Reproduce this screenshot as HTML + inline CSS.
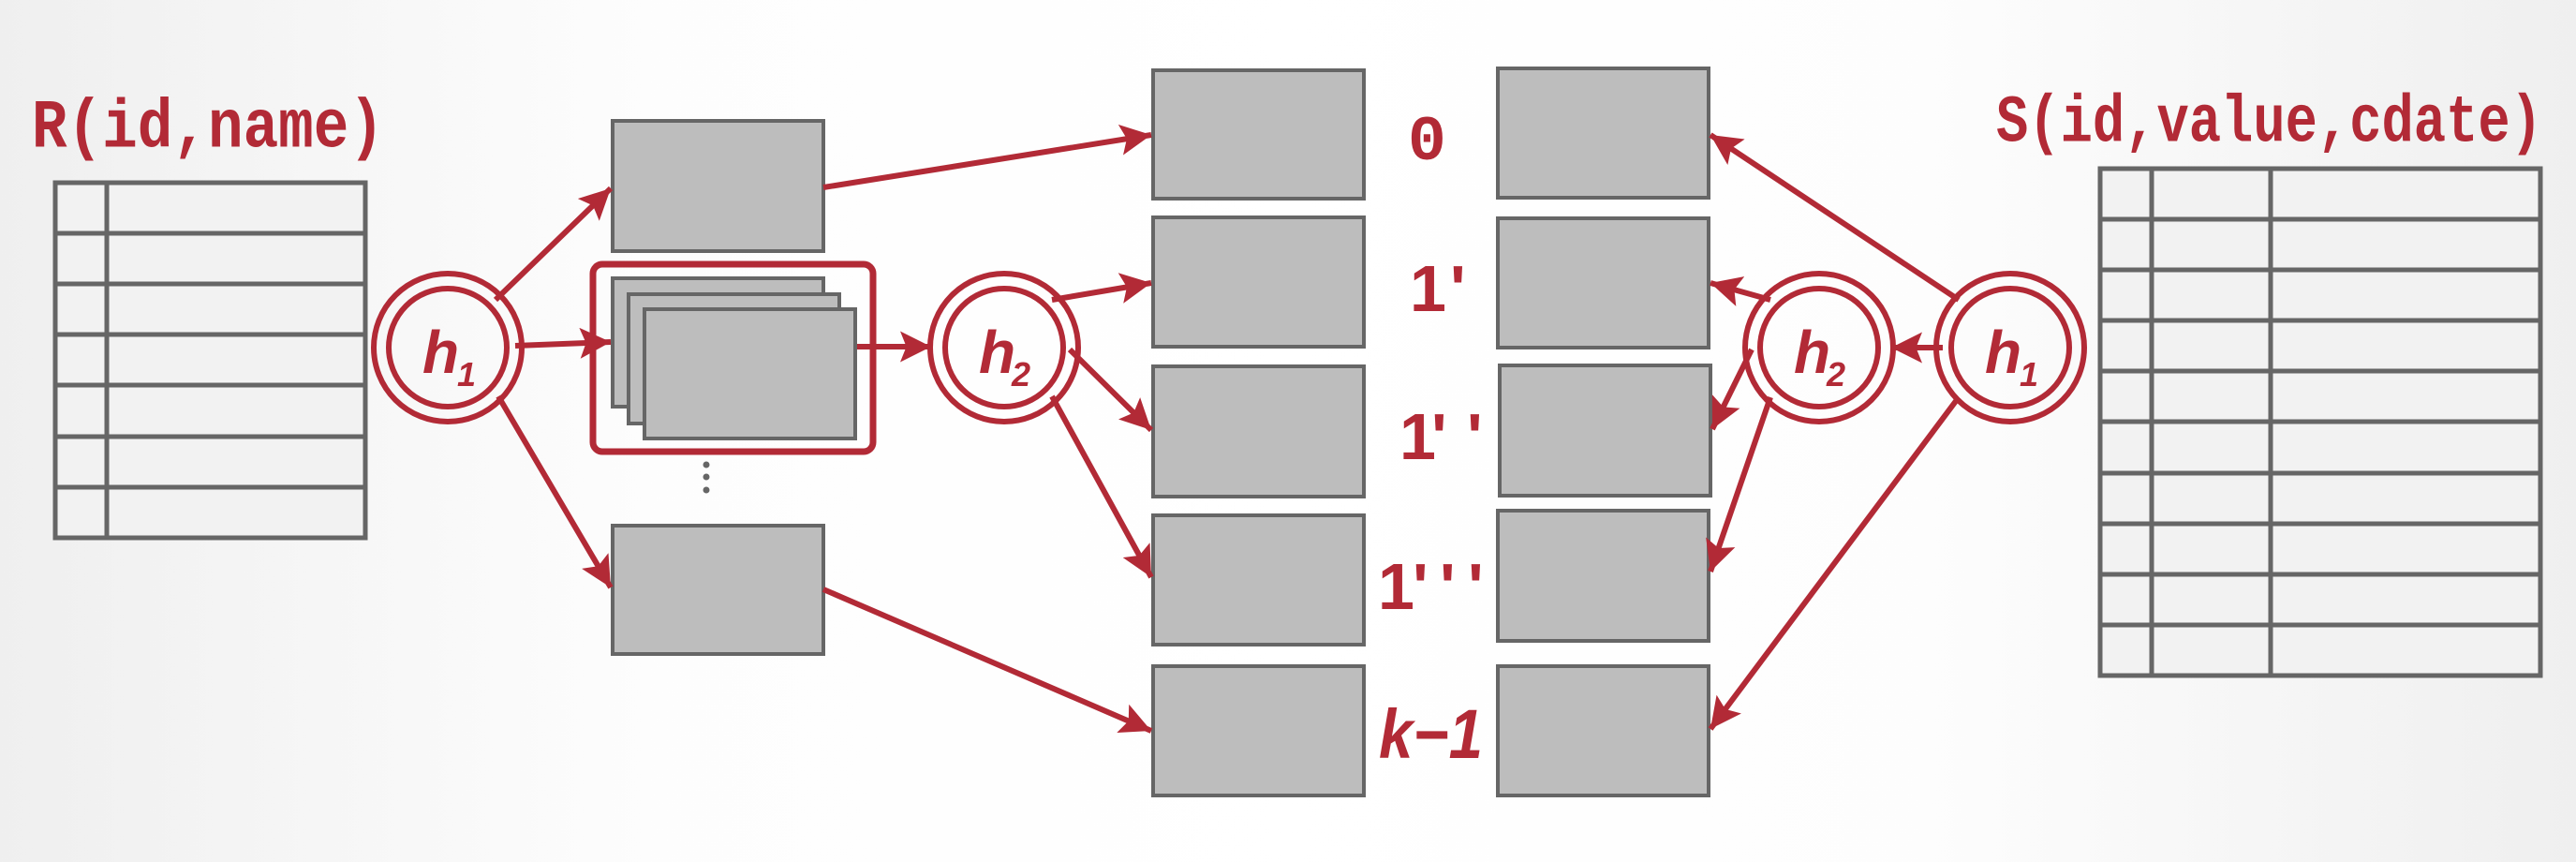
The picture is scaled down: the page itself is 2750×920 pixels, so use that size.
<!DOCTYPE html>
<html><head><meta charset="utf-8"><style>
html,body{margin:0;padding:0;width:2750px;height:920px;overflow:hidden;}
body{background:linear-gradient(to right,#efefef 0%,#fdfdfd 25%,#fff 50%,#fdfdfd 75%,#efefef 100%);}
</style></head><body>
<svg width="2750" height="920" viewBox="0 0 2750 920" xmlns="http://www.w3.org/2000/svg">
<defs>
<marker id="a" viewBox="0 0 10 10" refX="10" refY="5" markerWidth="5.5" markerHeight="5.5" markerUnits="strokeWidth" orient="auto">
<path d="M0,0 L10,5 L0,10 L2,5 z" fill="#b22a36"/></marker>
</defs>
<g font-family="'Liberation Mono',monospace" font-weight="bold" fill="#b22a36">
<text x="34" y="157" font-size="64" textLength="376" lengthAdjust="spacingAndGlyphs" transform="translate(0,-24) scale(1,1.15)" >R(id,name)</text>
<text x="2131" y="150" font-size="62" textLength="583" lengthAdjust="spacingAndGlyphs" transform="translate(0,-22) scale(1,1.15)">S(id,value,cdate)</text>
</g>
<!-- R table -->
<g stroke="#666" stroke-width="5" fill="#f2f2f2">
<rect x="59" y="195" width="331" height="379"/>
<line x1="114" y1="195" x2="114" y2="574"/>
<line x1="59" y1="249" x2="390" y2="249"/><line x1="59" y1="303" x2="390" y2="303"/>
<line x1="59" y1="357" x2="390" y2="357"/><line x1="59" y1="411" x2="390" y2="411"/>
<line x1="59" y1="466" x2="390" y2="466"/><line x1="59" y1="520" x2="390" y2="520"/>
</g>
<!-- S table -->
<g stroke="#666" stroke-width="5" fill="#f2f2f2">
<rect x="2242" y="180" width="470" height="541"/>
<line x1="2297" y1="180" x2="2297" y2="721"/><line x1="2424" y1="180" x2="2424" y2="721"/>
<line x1="2242" y1="234" x2="2712" y2="234"/><line x1="2242" y1="288" x2="2712" y2="288"/>
<line x1="2242" y1="342" x2="2712" y2="342"/><line x1="2242" y1="396" x2="2712" y2="396"/>
<line x1="2242" y1="450" x2="2712" y2="450"/><line x1="2242" y1="505" x2="2712" y2="505"/>
<line x1="2242" y1="559" x2="2712" y2="559"/><line x1="2242" y1="613" x2="2712" y2="613"/>
<line x1="2242" y1="667" x2="2712" y2="667"/>
</g>
<!-- boxes -->
<g stroke="#666" stroke-width="4" fill="#bdbdbd">
<rect x="654" y="129" width="225" height="139"/>
<rect x="654" y="297" width="225" height="137"/>
<rect x="671" y="314" width="225" height="138"/>
<rect x="688" y="330" width="225" height="138"/>
<rect x="654" y="561" width="225" height="137"/>
<rect x="1231" y="75" width="225" height="137"/>
<rect x="1231" y="232" width="225" height="138"/>
<rect x="1231" y="391" width="225" height="139"/>
<rect x="1231" y="550" width="225" height="138"/>
<rect x="1231" y="711" width="225" height="138"/>
<rect x="1599" y="73" width="225" height="138"/>
<rect x="1599" y="233" width="225" height="138"/>
<rect x="1601" y="390" width="225" height="139"/>
<rect x="1599" y="545" width="225" height="139"/>
<rect x="1599" y="711" width="225" height="138"/>
</g>
<rect x="633" y="282" width="299" height="200" rx="10" fill="none" stroke="#b22a36" stroke-width="7"/>
<g fill="#666"><circle cx="754" cy="496" r="3.5"/><circle cx="754" cy="509" r="3.5"/><circle cx="754" cy="523" r="3.5"/></g>
<!-- circles -->
<g fill="none" stroke="#b22a36" stroke-width="6">
<circle cx="478" cy="371" r="79"/><circle cx="478" cy="371" r="63"/>
<circle cx="1072" cy="371" r="79"/><circle cx="1072" cy="371" r="63"/>
<circle cx="1942" cy="371" r="79"/><circle cx="1942" cy="371" r="63"/>
<circle cx="2146" cy="371" r="79"/><circle cx="2146" cy="371" r="63"/>
</g>
<g font-family="'Liberation Sans',sans-serif" font-style="italic" font-weight="bold" fill="#b22a36">
<text x="451" y="398" font-size="64">h</text><text x="488" y="412" font-size="36">1</text>
<text x="1045" y="398" font-size="64">h</text><text x="1080" y="412" font-size="36">2</text>
<text x="1915" y="398" font-size="64">h</text><text x="1950" y="412" font-size="36">2</text>
<text x="2119" y="398" font-size="64">h</text><text x="2156" y="412" font-size="36">1</text>
<text x="1472" y="809" font-size="74" textLength="111" lengthAdjust="spacingAndGlyphs">k−1</text>
</g>
<g font-family="'Liberation Sans',sans-serif" font-weight="bold" fill="#b22a36" font-size="70">
<text x="1503" y="170" font-family="'Liberation Mono',monospace" font-size="68">0</text>
<text y="332"><tspan x="1505">1</tspan><tspan x="1548">'</tspan></text>
<text y="490"><tspan x="1494">1</tspan><tspan x="1528">'</tspan><tspan x="1566">'</tspan></text>
<text y="650"><tspan x="1471">1</tspan><tspan x="1508">'</tspan><tspan x="1537">'</tspan><tspan x="1567">'</tspan></text>
</g>
<!-- arrows -->
<g stroke="#b22a36" stroke-width="6" fill="none" marker-end="url(#a)">
<line x1="529" y1="320" x2="652" y2="201"/>
<line x1="550" y1="369" x2="652" y2="365"/>
<line x1="532" y1="423" x2="652" y2="627"/>
<line x1="915" y1="370" x2="994" y2="370"/>
<line x1="879" y1="200" x2="1229" y2="144"/>
<line x1="879" y1="629" x2="1229" y2="780"/>
<line x1="1123" y1="320" x2="1229" y2="302"/>
<line x1="1142" y1="373" x2="1229" y2="459"/>
<line x1="1123" y1="423" x2="1229" y2="616"/>
<line x1="2074" y1="371" x2="2019" y2="371"/>
<line x1="2091" y1="320" x2="1826" y2="144"/>
<line x1="2091" y1="424" x2="1826" y2="778"/>
<line x1="1890" y1="320" x2="1826" y2="302"/>
<line x1="1870" y1="373" x2="1828" y2="458"/>
<line x1="1890" y1="424" x2="1826" y2="610"/>
</g>
</svg>
</body></html>
